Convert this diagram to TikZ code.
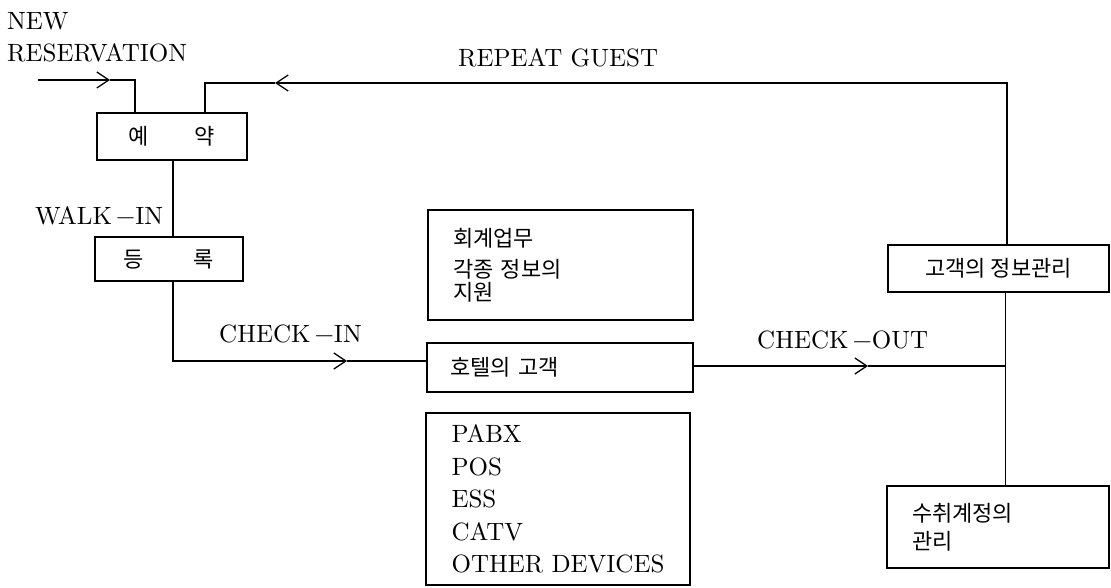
\documentclass[tikz,border=0pt]{standalone}
\usepackage{fontspec}
\setmainfont{lmroman10-regular.otf}
\newfontfamily\kr{Noto Sans CJK KR}
\usetikzlibrary{arrows.meta}
\begin{document}
\begin{tikzpicture}[x=1pt,y=-1pt,
  every node/.style={font=\fontsize{25}{32}\selectfont},
  box/.style={draw, line width=1.3pt, inner sep=0pt, font=\kr\fontsize{22}{28}\selectfont},
  lbox/.style={box, align=left},
  lbl/.style={inner sep=0pt, anchor=base west},
  conn/.style={line width=1.3pt},
  tip/.style={conn, -{Straight Barb[length=12pt,width=16pt]}}
]
\useasboundingbox (0,0) rectangle (1111,588);

% boxes
\node[box, minimum width=150pt, minimum height=47pt] (yeyak) at (172,136.5) {예\hspace{46pt}약};
\node[box, minimum width=148pt, minimum height=44pt] (deungrok) at (169,259) {등\hspace{50pt}록};
\node[lbox, minimum width=265pt, minimum height=110pt, text width=215pt] (hoegye) at (560.5,265) {회계업무\\[3pt]각종 정보의\\[-5pt]지원};
\node[lbox, minimum width=266pt, minimum height=49pt, text width=220pt] (hotel) at (560,367.5) {호텔의 고객};
\node[lbox, minimum width=264pt, minimum height=172pt, font=\fontsize{25}{32.5}\selectfont] (devices) at (558,499) {PABX\\POS\\ESS\\CATV\\OTHER DEVICES};
\node[box, minimum width=221pt, minimum height=47pt] (gogaek) at (998.5,268.5) {고객의 정보관리};
\node[lbox, minimum width=222pt, minimum height=82pt, text width=172pt] (suchwi) at (998,527) {수취계정의\\관리};

% labels
\node[inner sep=0pt, anchor=north west, align=left] (newres) at (7,12) {NEW\\RESERVATION};
\node[lbl] (repeat) at (458,67) {REPEAT GUEST};
\node[lbl] (walkin) at (35,225) {WALK\kern4pt−IN};
\node[lbl] (checkin) at (219,342) {CHECK\kern4pt−IN};
\node[lbl] (checkout) at (757,348) {CHECK\kern4pt−OUT};

% connector points
\coordinate (nrStart) at (38,80);
\coordinate (nrChev) at (110,80);
\coordinate (rgChev) at (275,83);
\coordinate (ciChev) at (347,361);
\coordinate (coChev) at (868,366);
\coordinate (vx) at ([xshift=7pt]gogaek.south);

% connectors
\draw[tip] (nrStart) -- (nrChev);
\draw[conn] (nrChev) -| ([xshift=-37pt]yeyak.north);
\draw[tip] ([xshift=8.5pt]gogaek.north) |- (rgChev);
\draw[conn] (rgChev) -| ([xshift=33pt]yeyak.north);
\draw[conn] ([xshift=1pt]yeyak.south) -- ([xshift=1pt]yeyak.south |- deungrok.north);
\draw[tip] ([xshift=4pt]deungrok.south) |- (ciChev);
\draw[conn] (ciChev) -- (ciChev -| hotel.west);
\draw[tip] (coChev -| hotel.east) -- (coChev);
\draw[conn] (coChev) -- (coChev -| vx);
\draw[conn] (vx) -- (vx |- suchwi.north);
\end{tikzpicture}
\end{document}
